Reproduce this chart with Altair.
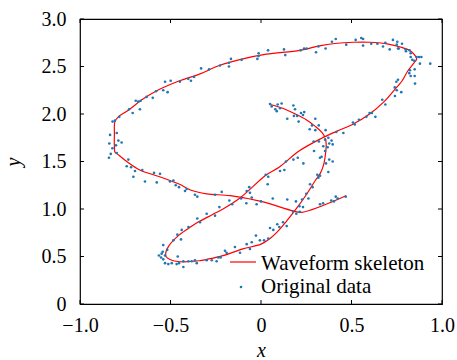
import altair as alt
import pandas as pd

# ---- skeleton curve (ordered along the stroke) ----
skel_x = [0.05, 0.12, 0.19, 0.25, 0.30, 0.335, 0.352, 0.36, 0.357, 0.345, 0.326, 0.30, 0.25,
          0.19, 0.14, 0.09, 0.05, 0.0, -0.10, -0.21, -0.30, -0.34, -0.45, -0.50, -0.525, -0.525,
          -0.51, -0.45, -0.39, -0.34, -0.27, -0.21, -0.12, 0.03, 0.10, 0.21, 0.33, 0.42, 0.51,
          0.60, 0.68, 0.74, 0.78, 0.81, 0.85, 0.86, 0.845, 0.82, 0.77, 0.69, 0.60, 0.51, 0.42,
          0.33, 0.215, 0.03, -0.10, -0.23, -0.34, -0.45, -0.576, -0.65, -0.733, -0.788, -0.807,
          -0.81, -0.81, -0.807, -0.794, -0.742, -0.67, -0.56, -0.45, -0.39, -0.30, -0.17, 0.0,
          0.177, 0.223, 0.47]
skel_y = [2.10, 2.06, 2.00, 1.94, 1.87, 1.81, 1.76, 1.69, 1.59, 1.46, 1.37, 1.30, 1.15,
          0.99, 0.87, 0.76, 0.69, 0.63, 0.58, 0.51, 0.47, 0.455, 0.445, 0.465, 0.50, 0.55,
          0.61, 0.73, 0.81, 0.87, 0.94, 1.00, 1.11, 1.36, 1.44, 1.61, 1.74, 1.82, 1.895,
          2.00, 2.13, 2.26, 2.35, 2.45, 2.55, 2.58, 2.63, 2.67, 2.705, 2.74, 2.755, 2.755, 2.745,
          2.72, 2.67, 2.63, 2.58, 2.51, 2.42, 2.35, 2.245, 2.16, 2.04, 1.97, 1.92,
          1.79, 1.65, 1.60, 1.58, 1.50, 1.41, 1.34, 1.26, 1.20, 1.16, 1.14, 1.08,
          0.98, 0.965, 1.14]

# ---- original data points ----
pts_x = [-0.807, -0.820, -0.834, -0.797, -0.838, -0.788, -0.770, -0.821, -0.801, -0.840, -0.830,
         -0.797, -0.733, -0.742, -0.718, -0.696, -0.656, -0.705, -0.591, -0.558,
         -0.783, -0.729, -0.709, -0.692, -0.678, -0.665, -0.632, -0.598, -0.580, -0.540, -0.516,
         -0.530, -0.499, -0.448, -0.402, -0.387, -0.370, -0.331, -0.287, -0.227, -0.177, -0.177,
         -0.669,
         -0.166, -0.107, -0.020, -0.013, -0.013, 0.039, 0.127, 0.134, 0.219, 0.238, 0.252, 0.304,
         0.317,
         0.050, 0.059, 0.079, 0.087, 0.092, 0.105, 0.114, 0.179, 0.188, 0.221, 0.239,
         0.145, 0.182, 0.200, 0.232, 0.208, 0.300, 0.282, 0.319, 0.269, 0.300, 0.320, 0.291,
         0.293, 0.326,
         0.357, 0.372, 0.354, 0.390, 0.377, 0.396, 0.344, 0.368, 0.354, 0.335, 0.377, 0.396,
         0.359, 0.372, 0.326,
         0.416, 0.455, 0.508, 0.518, 0.541, 0.582, 0.600, 0.613, 0.632, 0.670, 0.687, 0.739,
         0.748, 0.757, 0.775, 0.740, 0.750,
         0.849, 0.823, 0.819, 0.849, 0.827, 0.851,
         0.847, 0.860, 0.873, 0.886, 0.878, 0.935, 0.827, 0.836,
         0.799, 0.821, 0.827, 0.757, 0.779, 0.729, 0.753, 0.711, 0.674, 0.687, 0.643, 0.609,
         0.564, 0.554, 0.564, 0.523, 0.471, 0.413, 0.392, 0.357, 0.750, 0.761, 0.801,
         0.413, 0.424, 0.468, 0.403, 0.326, 0.388, 0.343,
         -0.254, -0.217, -0.230, -0.175, -0.159, -0.110, -0.079, -0.065, -0.061, -0.051, -0.081,
         -0.024, 0.000, 0.037, 0.065, 0.145, 0.193, 0.212, 0.232, 0.250, 0.262, 0.227, 0.271,
         0.285, 0.177, 0.195, 0.214,
         0.026, 0.040, 0.105, 0.129, 0.138, 0.179, 0.203, 0.234, 0.311, 0.317,
         -0.337, -0.300, -0.254,
         -0.300, -0.272, -0.245, -0.236, -0.223, -0.199, -0.190, -0.144, -0.116, -0.079, -0.061,
         -0.051, -0.028, -0.006, 0.040, 0.050, 0.068, 0.090, 0.101, 0.142, 0.122, 0.017,
         -0.352, -0.401, -0.438, -0.462, -0.442, -0.484, -0.540, -0.518, -0.543, -0.549, -0.564,
         -0.530, -0.552, -0.540, -0.460, -0.530, -0.512, -0.493, -0.466, -0.453, -0.429, -0.429,
         -0.401, -0.383, -0.365, -0.355,
         -0.641, -0.576, -0.503, -0.484, -0.471, -0.453, -0.420, -0.411, -0.365, -0.352]
pts_y = [1.93, 1.92, 1.78, 1.80, 1.69, 1.72, 1.70, 1.64, 1.67, 1.54, 1.58,
         1.59, 1.52, 1.45, 1.44, 1.40, 1.41, 1.34, 1.38, 1.37,
         1.97, 2.05, 2.01, 2.14, 2.13, 2.14, 2.18, 2.17, 2.24, 2.25, 2.23,
         2.34, 2.35, 2.34, 2.37, 2.35, 2.39, 2.48, 2.47, 2.51, 2.54, 2.50,
         2.05,
         2.58, 2.57, 2.58, 2.64, 2.61, 2.67, 2.68, 2.62, 2.67, 2.69, 2.69, 2.65,
         2.71,
         2.105, 2.08, 2.05, 2.03, 2.10, 2.06, 2.11, 2.09, 2.05, 2.01, 2.02,
         1.95, 1.98, 1.98, 1.99, 1.92, 1.95, 1.88, 1.88, 1.84, 1.83, 1.71, 1.71,
         1.61, 1.54,
         1.83, 1.75, 1.73, 1.72, 1.69, 1.68, 1.66, 1.65, 1.61, 1.55, 1.52, 1.50,
         1.48, 1.39, 1.35,
         1.81, 1.80, 1.91, 1.89, 1.94, 1.97, 2.01, 2.01, 1.97, 2.15, 2.10, 2.28,
         2.34, 2.36, 2.23, 2.19, 2.25,
         2.47, 2.46, 2.43, 2.40, 2.40, 2.32,
         2.56, 2.60, 2.60, 2.60, 2.53, 2.53, 2.60, 2.57,
         2.68, 2.67, 2.64, 2.69, 2.74, 2.78, 2.76, 2.68, 2.71, 2.75, 2.74, 2.74,
         2.72, 2.80, 2.79, 2.78, 2.73, 2.79, 2.76, 2.69, 2.73, 2.69, 2.66,
         1.13, 1.11, 1.13, 1.08, 1.05, 1.09, 1.06,
         1.15, 1.18, 1.02, 1.09, 1.05, 1.11, 1.19, 1.23, 1.17, 1.12, 1.06,
         1.05, 1.08, 1.26, 1.11, 1.10, 1.08, 1.03, 1.02, 1.16, 1.11, 1.10, 1.26,
         1.23, 0.97, 0.95, 0.97,
         1.36, 1.34, 1.40, 1.41, 1.50, 1.52, 1.54, 1.48, 1.36, 1.33,
         0.86, 0.95, 0.93,
         0.46, 0.46, 0.45, 0.49, 0.49, 0.56, 0.54, 0.60, 0.54, 0.63, 0.58,
         0.65, 0.72, 0.67, 0.69, 0.80, 0.78, 0.84, 0.81, 0.82, 0.86, 0.67,
         0.90, 0.81, 0.78, 0.73, 0.68, 0.67, 0.62, 0.57, 0.55, 0.53, 0.51,
         0.51, 0.49, 0.47, 0.50, 0.43, 0.42, 0.43, 0.42, 0.43, 0.45, 0.39,
         0.45, 0.45, 0.46, 0.43,
         1.29, 1.28, 1.29, 1.30, 1.25, 1.23, 1.19, 1.21, 1.15, 1.13]

x_ticks = [-1.0, -0.5, 0.0, 0.5, 1.0]
y_ticks = [0.0, 0.5, 1.0, 1.5, 2.0, 2.5, 3.0]
legend_labels = ["Waveform skeleton", "Original data"]

W, H = 362, 285
FONT = "Liberation Serif"
RED = "#ff0000"
BLUE = "#1f77b4"

skel = pd.DataFrame({"x": skel_x, "y": skel_y, "order": list(range(len(skel_x)))})
pts = pd.DataFrame({"x": pts_x, "y": pts_y})
xt = pd.DataFrame({"x": x_ticks})
yt = pd.DataFrame({"y": y_ticks})
leg1 = pd.DataFrame({"label": [legend_labels[0]]})
leg2 = pd.DataFrame({"label": [legend_labels[1]]})

xscale = alt.Scale(domain=[-1, 1], nice=False, zero=False)
yscale = alt.Scale(domain=[0, 3], nice=False, zero=False)

label_expr = "datum.value == 0 ? '0' : format(datum.value, '.1f')"

xaxis = alt.Axis(
    values=x_ticks, labelExpr=label_expr, grid=False, domain=False, ticks=False,
    labelFont=FONT, labelFontSize=20, labelColor="black", labelPadding=11,
    title="x", titleFont=FONT, titleFontStyle="italic", titleFontWeight="normal",
    titleFontSize=20, titleColor="black", titlePadding=5, labelFlush=False)
yaxis = alt.Axis(
    values=y_ticks, labelExpr=label_expr, grid=False, domain=False, ticks=False,
    labelFont=FONT, labelFontSize=20, labelColor="black", labelPadding=14,
    title="y", titleFont=FONT, titleFontStyle="italic", titleFontWeight="normal",
    titleFontSize=20, titleColor="black", titlePadding=18, labelFlush=False)

X = lambda: alt.X("x:Q", scale=xscale, axis=xaxis, title="x")
Y = lambda: alt.Y("y:Q", scale=yscale, axis=yaxis, title="y")

line = alt.Chart(skel).mark_line(color=RED, strokeWidth=1.2, interpolate="catmull-rom").encode(
    x=X(), y=Y(), order="order:Q")

points = alt.Chart(pts).mark_circle(color=BLUE, size=7, opacity=1).encode(x=X(), y=Y())

tick_style = dict(color="black", strokeWidth=1)
xb = alt.Chart(xt).mark_rule(**tick_style).encode(x=X(), y=alt.value(H), y2=alt.value(H - 4))
xtop = alt.Chart(xt).mark_rule(**tick_style).encode(x=X(), y=alt.value(0), y2=alt.value(4))
yl = alt.Chart(yt).mark_rule(**tick_style).encode(y=Y(), x=alt.value(0), x2=alt.value(4))
yr = alt.Chart(yt).mark_rule(**tick_style).encode(y=Y(), x=alt.value(W), x2=alt.value(W - 4))

leg_line = alt.Chart(leg1).mark_rule(color=RED, strokeWidth=1.2).encode(
    x=alt.value(150), x2=alt.value(176), y=alt.value(243))
leg_dot = alt.Chart(leg2).mark_circle(color=BLUE, size=7, opacity=1).encode(
    x=alt.value(161), y=alt.value(268))
leg_t1 = alt.Chart(leg1).mark_text(font=FONT, fontSize=21, align="left", baseline="alphabetic",
                                   color="black").encode(
    x=alt.value(181), y=alt.value(251), text="label:N")
leg_t2 = alt.Chart(leg2).mark_text(font=FONT, fontSize=21, align="left", baseline="alphabetic",
                                   color="black").encode(
    x=alt.value(181), y=alt.value(274), text="label:N")

chart = alt.layer(line, points, xb, xtop, yl, yr, leg_line, leg_dot, leg_t1, leg_t2).properties(
    width=W, height=H,
    background="white",
    autosize=alt.AutoSizeParams(type="none"),
    padding={"left": 80, "top": 19, "right": 15, "bottom": 56},
).configure_view(stroke="black", strokeWidth=1.2)

chart.save("out.html", embed_options={"renderer": "svg", "actions": False})
